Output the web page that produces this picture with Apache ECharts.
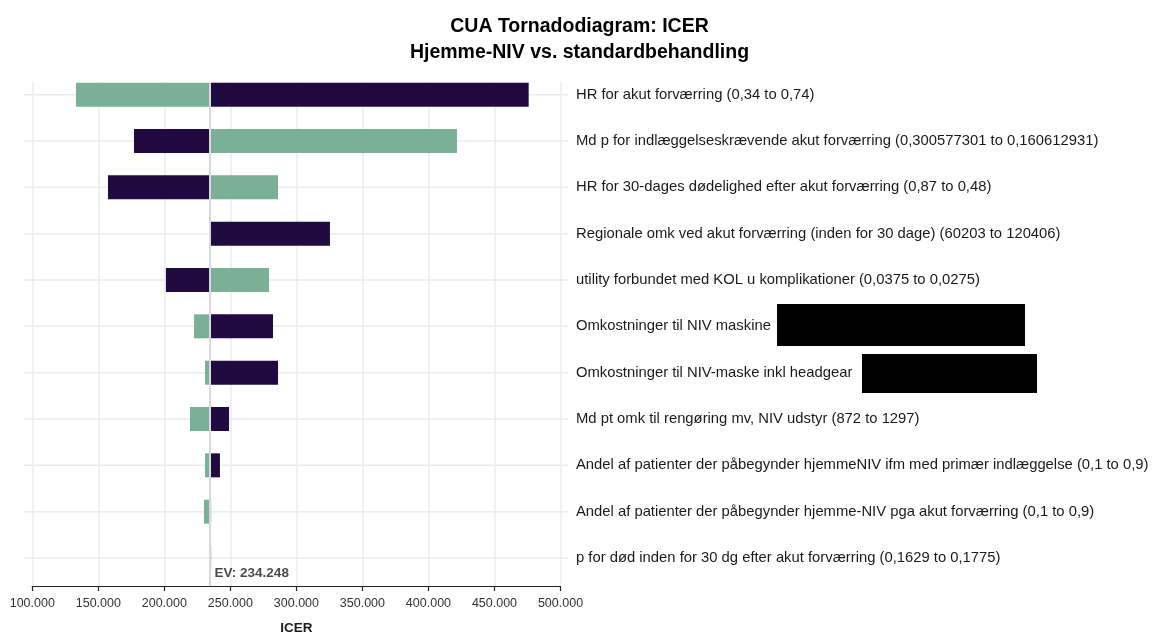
<!DOCTYPE html>
<html>
<head>
<meta charset="utf-8">
<script src="https://cdn.jsdelivr.net/npm/echarts@6/dist/echarts.min.js"></script>
<style>
  html, body { margin: 0; padding: 0; background: #fff; }
  #chart { width: 1159px; height: 640px; }
</style>
</head>
<body>
<div id="chart"></div>
<script>
// parametre (top til bund)
var categories = [
  "HR for akut forværring (0,34 to 0,74)",
  "Md p for indlæggelseskrævende akut forværring (0,300577301 to 0,160612931)",
  "HR for 30-dages dødelighed efter akut forværring (0,87 to 0,48)",
  "Regionale omk ved akut forværring (inden for 30 dage) (60203 to 120406)",
  "utility forbundet med KOL u komplikationer (0,0375 to 0,0275)",
  "Omkostninger til NIV maskine",
  "Omkostninger til NIV-maske inkl headgear",
  "Md pt omk til rengøring mv, NIV udstyr (872 to 1297)",
  "Andel af patienter der påbegynder hjemmeNIV ifm med primær indlæggelse (0,1 to 0,9)",
  "Andel af patienter der påbegynder hjemme-NIV pga akut forværring (0,1 to 0,9)",
  "p for død inden for 30 dg efter akut forværring (0,1629 to 0,1775)"
];
var ev = 234248;
// ICER ved lav / høj parameterværdi
var icerDark = [475900, 177000, 157300, 325400, 201200, 282300, 286100, 249000, 242100, 235400, 235400];
var icerGreen = [133100, 421600, 286100, 234248, 279300, 222500, 230800, 219400, 230800, 230000, 234248];
var xTicks = { min: 100000, max: 500000, interval: 50000 };

var DARK = "#200a40";
var GREEN = "#7ab196";
var FONT = "Liberation Sans";

function fmt(v) {
  return String(Math.round(v)).replace(/\B(?=(\d{3})+(?!\d))/g, ".");
}

function barItem(params, api) {
  var a = api.coord([api.value(1), api.value(0)]);
  var b = api.coord([api.value(2), api.value(0)]);
  var h = 24;
  return {
    type: "rect",
    shape: { x: Math.min(a[0], b[0]), y: a[1] - h / 2, width: Math.abs(b[0] - a[0]), height: h },
    style: api.style()
  };
}

function gridLineItem(params, api) {
  var p = api.coord([xTicks.min, api.value(0)]);
  var cs = params.coordSys;
  return {
    type: "line",
    shape: { x1: cs.x - 8, y1: p[1], x2: cs.x + cs.width + 8, y2: p[1] },
    style: { stroke: "#ebebeb", lineWidth: 1.5 }
  };
}

var darkData = categories.map(function (c, i) { return [i, ev, icerDark[i]]; });
var greenData = categories.map(function (c, i) { return [i, ev, icerGreen[i]]; });
var rowData = categories.map(function (c, i) { return [i]; });

var myChart = echarts.init(document.getElementById("chart"));
var option = {
  backgroundColor: "#fff",
  animation: false,
  textStyle: { fontFamily: FONT },
  title: {
    text: "CUA Tornadodiagram: ICER\nHjemme-NIV vs. standardbehandling",
    left: "center",
    top: 8,
    textStyle: { fontFamily: FONT, fontSize: 19.5, fontWeight: "bold", color: "#000", lineHeight: 26.5 }
  },
  grid: [
    { left: 32.3, right: 598.5, top: 82, bottom: 48 },
    { left: 32.3, right: 598.5, top: 94.7, bottom: 82 }
  ],
  xAxis: [
    {
      gridIndex: 0,
      type: "value",
      min: xTicks.min,
      max: xTicks.max,
      interval: xTicks.interval,
      name: "ICER",
      nameLocation: "middle",
      nameGap: 35,
      nameTextStyle: { fontFamily: FONT, fontSize: 13.5, fontWeight: "bold", color: "#1a1a1a" },
      axisLine: { show: true, lineStyle: { color: "#222", width: 1.2 } },
      axisTick: { show: true, length: 5, lineStyle: { color: "#222", width: 1.2 } },
      axisLabel: { color: "#333", fontSize: 12.5, fontFamily: FONT, margin: 11, formatter: fmt },
      splitLine: { show: true, lineStyle: { color: "#ebebeb", width: 1.5 } }
    },
    {
      gridIndex: 1,
      type: "value",
      min: xTicks.min,
      max: xTicks.max,
      show: false,
      splitLine: { show: false }
    }
  ],
  yAxis: [
    { gridIndex: 0, type: "value", min: 0, max: 1, show: false },
    {
      gridIndex: 1,
      type: "category",
      data: categories,
      inverse: true,
      boundaryGap: false,
      position: "right",
      axisLine: { show: false },
      axisTick: { show: false },
      splitLine: { show: false },
      axisLabel: { color: "#1a1a1a", fontSize: 14.8, fontFamily: FONT, margin: 15.5, padding: [5, 0, 0, 0] }
    }
  ],
  series: [
    {
      name: "rows",
      type: "custom",
      xAxisIndex: 1,
      yAxisIndex: 1,
      renderItem: gridLineItem,
      data: rowData,
      z: 1,
      silent: true
    },
    {
      name: "Lav",
      type: "custom",
      xAxisIndex: 1,
      yAxisIndex: 1,
      renderItem: barItem,
      encode: { x: [1, 2], y: 0 },
      itemStyle: { color: DARK },
      data: darkData,
      z: 2
    },
    {
      name: "Høj",
      type: "custom",
      xAxisIndex: 1,
      yAxisIndex: 1,
      renderItem: barItem,
      encode: { x: [1, 2], y: 0 },
      itemStyle: { color: GREEN },
      data: greenData,
      z: 2
    },
    {
      name: "EV",
      type: "scatter",
      xAxisIndex: 0,
      yAxisIndex: 0,
      symbolSize: 0,
      data: [[ev, 0]],
      z: 5,
      label: {
        show: true,
        position: "right",
        distance: 5,
        offset: [0, -13],
        formatter: "EV: " + fmt(ev),
        fontFamily: FONT,
        fontSize: 13.5,
        fontWeight: "bold",
        color: "#1a1a1a"
      },
      markLine: {
        silent: true,
        symbol: "none",
        label: { show: false },
        lineStyle: { color: "#d9d9d9", width: 2, type: "solid" },
        data: [{ xAxis: ev }]
      }
    }
  ],
  graphic: [
    { type: "rect", shape: { x: 777, y: 304, width: 248, height: 42 }, style: { fill: "#000" }, z: 10 },
    { type: "rect", shape: { x: 862, y: 354, width: 175, height: 39 }, style: { fill: "#000" }, z: 10 }
  ]
};
myChart.setOption(option);
</script>
</body>
</html>
